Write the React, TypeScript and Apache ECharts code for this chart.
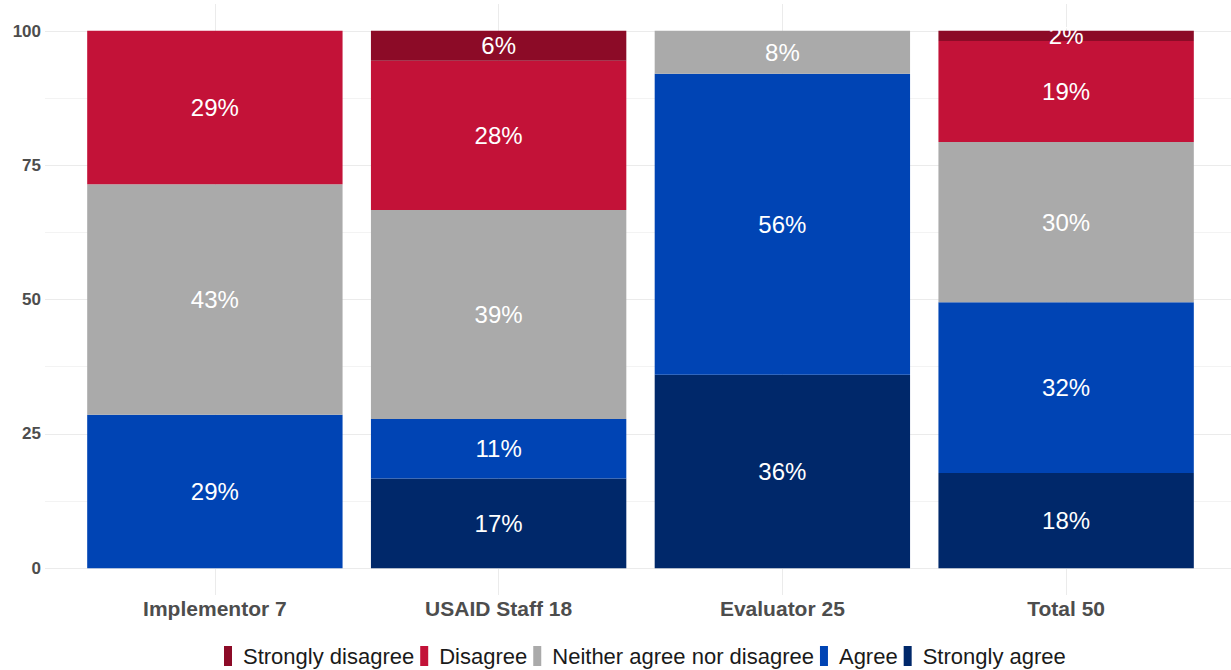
import React, { useEffect, useRef } from 'react';
import * as echarts from 'echarts';

const categories = ['Implementor 7', 'USAID Staff 18', 'Evaluator 25', 'Total 50'];
const legendOrder = ['Strongly disagree', 'Disagree', 'Neither agree nor disagree', 'Agree', 'Strongly agree'];

// percent values per category (bottom of stack first in series list below)
const stronglyAgree = [0, 16.67, 36, 17.7];
const agree = [28.57, 11.11, 56, 31.8];
const neither = [42.86, 38.89, 8, 29.8];
const disagree = [28.57, 27.78, 0, 18.8];
const stronglyDisagree = [0, 5.56, 0, 1.9];

const colorMap: Record<string, string> = {
  'Strongly disagree': '#8c0b27',
  'Disagree': '#c31238',
  'Neither agree nor disagree': '#aaaaaa',
  'Agree': '#0044b4',
  'Strongly agree': '#00286a',
};

const stackSeries: [string, number[]][] = [
  ['Strongly agree', stronglyAgree],
  ['Agree', agree],
  ['Neither agree nor disagree', neither],
  ['Disagree', disagree],
  ['Strongly disagree', stronglyDisagree],
];

const FONT = '"Liberation Sans", Arial, sans-serif';

export default function App() {
  const ref = useRef<HTMLDivElement>(null);
  useEffect(() => {
    document.body.style.margin = '0';
    if (!ref.current) return;
    const chart = echarts.init(ref.current, null, { renderer: 'svg' });
    const bars: any[] = stackSeries.map(([name, vals], i) => ({
      name,
      type: 'bar',
      stack: 'total',
      xAxisIndex: 0,
      yAxisIndex: 0,
      barWidth: '90%',
      z: 2,
      itemStyle: { color: colorMap[name] },
      data: vals,
      label: {
        show: true,
        position: 'inside',
        color: '#ffffff',
        fontSize: 24,
        fontFamily: FONT,
        formatter: (p: any) => (p.value > 0.5 ? `${Math.round(p.value)}%` : ''),
      },
      ...(i === 0
        ? {
            markLine: {
              silent: true,
              symbol: 'none',
              z: 1,
              label: { show: false },
              lineStyle: { color: '#ebebeb', width: 1, type: 'solid' },
              data: categories.map((c) => ({ xAxis: c })),
            },
          }
        : {}),
    }));
    chart.setOption({
      animation: false,
      textStyle: { fontFamily: FONT },
      color: stackSeries.map(([n]) => colorMap[n]),
      grid: [
        { left: 73, right: 23, top: 4, bottom: 75 },
        { left: 45, right: 0, top: 31, bottom: 102 },
      ],
      xAxis: [
        {
          gridIndex: 0,
          type: 'category',
          data: categories,
          axisLine: { show: false },
          axisTick: { show: false },
          splitLine: { show: false },
          axisLabel: { fontSize: 21, fontWeight: 'bold', color: '#4d4d4d', margin: 3, fontFamily: FONT },
        },
        { gridIndex: 1, type: 'value', show: false, min: 0, max: 1 },
      ],
      yAxis: [
        { gridIndex: 0, type: 'value', min: -5, max: 105, show: false, splitLine: { show: false } },
        {
          gridIndex: 1,
          type: 'value',
          min: 0,
          max: 100,
          interval: 25,
          axisLine: { show: false },
          axisTick: { show: false },
          minorTick: { show: false, splitNumber: 2 },
          splitLine: { show: true, lineStyle: { color: '#ebebeb', width: 1 } },
          minorSplitLine: { show: true, lineStyle: { color: '#f3f3f3', width: 1 } },
          axisLabel: { fontSize: 17, fontWeight: 'bold', color: '#4d4d4d', margin: 4, fontFamily: FONT },
        },
      ],
      legend: {
        data: legendOrder,
        left: 224,
        top: 645,
        icon: 'rect',
        itemWidth: 8,
        itemHeight: 20,
        itemGap: 6,
        padding: 0,
        textStyle: { fontSize: 22, color: '#1a1a1a', fontFamily: FONT, padding: [0, 0, 0, 6] },
      },
      series: bars,
    });
    return () => chart.dispose();
  }, []);
  return <div ref={ref} style={{ width: 1231, height: 670 }} />;
}
